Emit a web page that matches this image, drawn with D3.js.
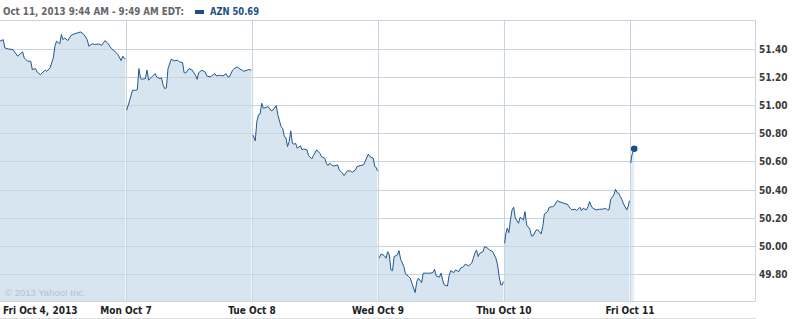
<!DOCTYPE html>
<html>
<head>
<meta charset="utf-8">
<script src="https://cdn.jsdelivr.net/npm/d3@7"></script>
<style>
  body { margin: 0; background: #fff; }
  svg text { font-family: "DejaVu Sans Condensed", "DejaVu Sans", sans-serif; }
</style>
</head>
<body>
<script>
// day labels, one per trading session
var dayLabels = ["Fri Oct 4, 2013", "Mon Oct 7", "Tue Oct 8", "Wed Oct 9", "Thu Oct 10", "Fri Oct 11"];
var yTicks = [49.80, 50.00, 50.20, 50.40, 50.60, 50.80, 51.00, 51.20, 51.40];

// [minutes after open, price]
var oct4 = [[0,51.455],[10,51.466],[15,51.407],[25,51.40],[40,51.395],[45,51.379],[55,51.348],[60,51.359],[70,51.379],[75,51.336],[85,51.313],[95,51.313],[100,51.253],[110,51.26],[115,51.236],[125,51.217],[130,51.229],[140,51.249],[145,51.241],[155,51.265],[160,51.30],[165,51.336],[170,51.419],[175,51.455],[185,51.436],[190,51.502],[195,51.466],[200,51.478],[210,51.459],[220,51.497],[230,51.507],[240,51.514],[250,51.521],[260,51.502],[270,51.466],[275,51.419],[285,51.436],[295,51.431],[305,51.436],[315,51.426],[325,51.459],[335,51.436],[345,51.402],[355,51.384],[365,51.359],[375,51.317],[380,51.348],[385,51.331],[388,51.331]];
var oct7 = [[2,50.964],[10,51.023],[20,51.106],[30,51.106],[35,51.11],[40,51.26],[45,51.189],[50,51.184],[60,51.189],[65,51.249],[70,51.177],[80,51.201],[90,51.224],[95,51.201],[105,51.189],[110,51.194],[115,51.142],[120,51.118],[125,51.123],[130,51.26],[140,51.327],[150,51.315],[160,51.32],[165,51.308],[175,51.303],[180,51.231],[185,51.229],[195,51.26],[205,51.249],[215,51.213],[220,51.184],[225,51.231],[235,51.249],[245,51.236],[250,51.208],[260,51.201],[265,51.208],[275,51.224],[280,51.208],[290,51.213],[300,51.208],[310,51.224],[315,51.201],[320,51.201],[330,51.249],[335,51.26],[345,51.272],[350,51.26],[360,51.249],[365,51.241],[375,51.249],[380,51.253],[388,51.249]];
var oct8 = [[3,50.788],[10,50.746],[15,50.883],[20,50.931],[25,50.936],[30,51.014],[35,50.978],[45,50.985],[50,50.99],[60,50.959],[65,50.966],[75,50.997],[80,50.931],[90,50.847],[95,50.836],[100,50.776],[105,50.769],[110,50.705],[115,50.741],[120,50.817],[125,50.729],[130,50.722],[135,50.729],[140,50.694],[150,50.71],[155,50.682],[160,50.689],[170,50.682],[175,50.641],[185,50.618],[190,50.641],[200,50.682],[210,50.658],[215,50.634],[225,50.623],[230,50.587],[235,50.57],[240,50.587],[250,50.57],[255,50.568],[265,50.575],[270,50.539],[280,50.516],[285,50.499],[295,50.532],[305,50.532],[310,50.523],[320,50.539],[325,50.563],[335,50.57],[345,50.575],[350,50.598],[360,50.651],[365,50.634],[375,50.623],[380,50.563],[385,50.556],[388,50.532]];
var oct9 = [[3,49.911],[10,49.942],[20,49.928],[25,49.911],[30,49.958],[35,49.935],[40,49.828],[45,49.823],[50,49.923],[60,49.935],[65,49.965],[70,49.904],[80,49.852],[85,49.80],[95,49.781],[100,49.769],[105,49.734],[115,49.667],[120,49.745],[125,49.769],[135,49.738],[140,49.805],[150,49.805],[160,49.805],[170,49.809],[175,49.833],[180,49.786],[190,49.776],[195,49.805],[200,49.757],[205,49.722],[215,49.714],[220,49.786],[225,49.823],[235,49.809],[240,49.828],[250,49.816],[255,49.84],[265,49.852],[270,49.869],[280,49.857],[290,49.876],[295,49.911],[300,49.947],[305,49.97],[310,49.923],[315,49.947],[325,49.958],[330,49.994],[340,49.982],[345,49.97],[355,49.958],[365,49.911],[370,49.864],[375,49.781],[380,49.722],[385,49.722],[388,49.745]];
var oct10 = [[2,50.018],[5,50.077],[10,50.125],[15,50.093],[20,50.184],[25,50.255],[30,50.274],[35,50.196],[45,50.16],[50,50.203],[60,50.184],[65,50.243],[70,50.148],[80,50.118],[85,50.07],[90,50.07],[100,50.113],[105,50.113],[115,50.084],[120,50.136],[125,50.226],[135,50.243],[140,50.274],[150,50.278],[155,50.283],[165,50.321],[170,50.314],[180,50.307],[190,50.298],[195,50.298],[205,50.267],[210,50.255],[220,50.26],[225,50.25],[235,50.274],[240,50.25],[245,50.267],[255,50.255],[260,50.278],[265,50.314],[270,50.283],[275,50.267],[285,50.255],[295,50.26],[305,50.26],[315,50.267],[320,50.255],[325,50.255],[330,50.328],[340,50.362],[345,50.402],[350,50.378],[355,50.374],[360,50.35],[365,50.328],[370,50.298],[380,50.255],[385,50.283],[388,50.321]];
var oct11 = [[2,50.587],[6,50.646],[13,50.69]];

var sessions = [oct4, oct7, oct8, oct9, oct10, oct11];
var lastPrice = 50.69;

var width = 801, height = 319,
    plotRight = 755, plotTop = 20.5, plotBottom = 301.5,
    dayMinutes = 390;

var svg = d3.select("body").append("svg")
    .attr("width", width)
    .attr("height", height);

var x = d3.scaleLinear().domain([0, dayMinutes * 6]).range([0, 756]);
var y = d3.scaleLinear().domain([49.6, 51.6]).range([302, 20.8]);

var fillColor = "#d6e5f0", lineColor = "#22578f", gridColor = "#c8d5e0";

// filled areas, one per day
var area = d3.area()
    .x(function(d) { return x(d.t); })
    .y0(plotBottom)
    .y1(function(d) { return y(d.p); });
var line = d3.line()
    .x(function(d) { return x(d.t); })
    .y(function(d) { return y(d.p); });

var days = sessions.map(function(s, i) {
  return s.map(function(d) { return {t: i * dayMinutes + d[0], p: d[1]}; });
});

svg.selectAll(".area").data(days).enter().append("path")
    .attr("class", "area")
    .attr("d", area)
    .attr("fill", function(d, i) { return i === 5 ? "#e4eef6" : fillColor; });

// grid
svg.selectAll(".hgrid").data(yTicks).enter().append("line")
    .attr("x1", 0).attr("x2", plotRight)
    .attr("y1", function(d) { return Math.round(y(d)) + 0.5; })
    .attr("y2", function(d) { return Math.round(y(d)) + 0.5; })
    .attr("stroke", gridColor);

svg.selectAll(".vgrid").data(d3.range(1, 6)).enter().append("line")
    .attr("x1", function(d) { return Math.round(x(d * dayMinutes)) + 0.5; })
    .attr("x2", function(d) { return Math.round(x(d * dayMinutes)) + 0.5; })
    .attr("y1", plotTop).attr("y2", plotBottom)
    .attr("stroke", gridColor);

// frame
svg.append("path")
    .attr("d", "M0," + plotTop + "H" + (plotRight + 0.5) + "V" + plotBottom + "H0")
    .attr("fill", "none")
    .attr("stroke", gridColor);
svg.append("line")
    .attr("x1", 0).attr("x2", plotRight + 1)
    .attr("y1", 318.5).attr("y2", 318.5)
    .attr("stroke", "#dcdcdc");

// price line
svg.selectAll(".line").data(days).enter().append("path")
    .attr("d", line)
    .attr("fill", "none")
    .attr("stroke", lineColor)
    .attr("stroke-width", 1)
    .attr("stroke-linejoin", "round");

var last = days[5][days[5].length - 1];
svg.append("circle")
    .attr("cx", x(last.t)).attr("cy", y(last.p))
    .attr("r", 3.3)
    .attr("fill", "#1d4f88");

// y labels
svg.selectAll(".ylab").data(yTicks).enter().append("text")
    .attr("x", 759)
    .attr("y", function(d) { return y(d) + 4; })
    .attr("font-size", "10px")
    .attr("font-weight", "bold")
    .attr("fill", "#3a3a3a")
    .text(function(d) { return d.toFixed(2); });

// x labels
svg.selectAll(".xlab").data(dayLabels).enter().append("text")
    .attr("x", function(d, i) { return i === 0 ? 3 : x(i * dayMinutes); })
    .attr("y", 314)
    .attr("text-anchor", function(d, i) { return i === 0 ? "start" : "middle"; })
    .attr("font-size", "10px")
    .attr("font-weight", "bold")
    .attr("fill", "#222")
    .text(function(d) { return d; });

// header
svg.append("text")
    .attr("x", 3).attr("y", 15)
    .attr("font-size", "10.5px")
    .attr("font-weight", "bold")
    .attr("fill", "#666")
    .attr("textLength", 181)
    .attr("lengthAdjust", "spacingAndGlyphs")
    .text("Oct 11, 2013 9:44 AM - 9:49 AM EDT:");
svg.append("rect")
    .attr("x", 195).attr("y", 10)
    .attr("width", 9).attr("height", 4)
    .attr("fill", "#1d4f88");
svg.append("text")
    .attr("x", 210).attr("y", 15)
    .attr("font-size", "10.5px")
    .attr("font-weight", "bold")
    .attr("fill", "#1d4f88")
    .attr("textLength", 49)
    .attr("lengthAdjust", "spacingAndGlyphs")
    .text("AZN " + lastPrice.toFixed(2));

svg.append("text")
    .attr("x", 5).attr("y", 296)
    .attr("font-size", "9.5px")
    .attr("fill", "#b3c2ce")
    .style("font-family", "'Liberation Sans', Arial, sans-serif")
    .text("\u00a9 2013 Yahoo! Inc.");
</script>
</body>
</html>
